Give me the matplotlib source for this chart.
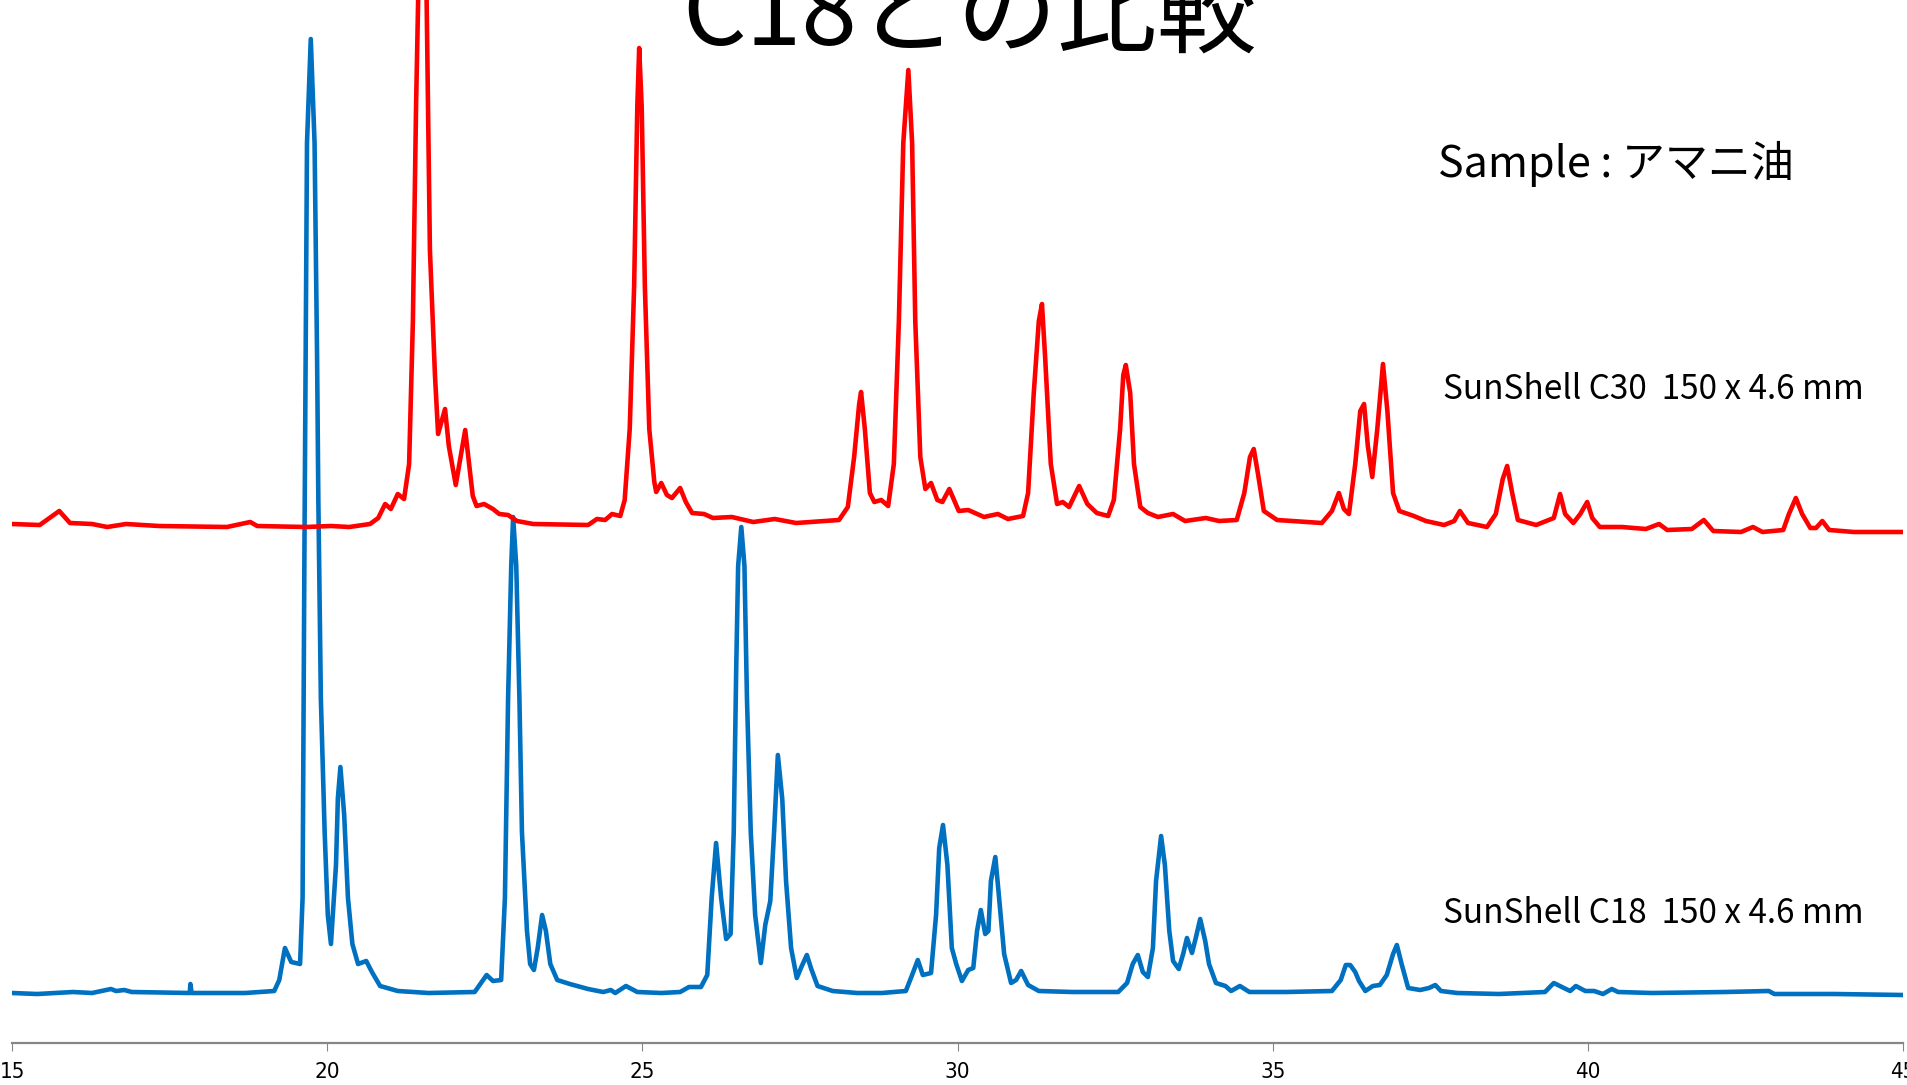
import matplotlib
matplotlib.use("Agg")
import matplotlib.pyplot as plt

plt.rcParams["font.family"] = ["Noto Sans CJK JP", "DejaVu Sans"]

# retention time [min] / detector response (arb.)
c30_time = [
    15.00, 15.44, 15.75, 15.92, 16.27, 16.51, 16.81, 17.33, 18.41, 18.78,
    18.89, 19.66, 20.06, 20.35, 20.68, 20.81, 20.92, 21.01, 21.12, 21.22,
    21.30, 21.36, 21.41, 21.44, 21.52, 21.58, 21.63, 21.71, 21.76, 21.87,
    21.93, 22.04, 22.19, 22.31, 22.37, 22.49, 22.63, 22.73, 22.87, 23.01,
    23.27, 24.14, 24.28, 24.41, 24.52, 24.65, 24.72, 24.80, 24.87, 24.92,
    24.95, 24.99, 25.04, 25.11, 25.19, 25.22, 25.30, 25.39, 25.47, 25.60,
    25.69, 25.79, 25.98, 26.12, 26.42, 26.76, 27.10, 27.44, 28.12, 28.26,
    28.36, 28.44, 28.47, 28.53, 28.61, 28.68, 28.79, 28.90, 28.99, 29.07,
    29.14, 29.22, 29.28, 29.33, 29.41, 29.49, 29.58, 29.68, 29.76, 29.87,
    30.02, 30.17, 30.42, 30.64, 30.80, 31.04, 31.12, 31.21, 31.29, 31.34,
    31.39, 31.48, 31.58, 31.67, 31.77, 31.93, 32.06, 32.21, 32.39, 32.48,
    32.58, 32.63, 32.67, 32.74, 32.80, 32.90, 33.02, 33.18, 33.42, 33.61,
    33.94, 34.15, 34.43, 34.55, 34.64, 34.70, 34.77, 34.86, 35.07, 35.31,
    35.78, 35.94, 36.05, 36.13, 36.21, 36.31, 36.39, 36.45, 36.51, 36.58,
    36.66, 36.75, 36.82, 36.91, 37.01, 37.24, 37.43, 37.72, 37.88, 37.97,
    38.10, 38.40, 38.54, 38.65, 38.72, 38.80, 38.89, 39.18, 39.46, 39.56,
    39.64, 39.77, 39.88, 39.99, 40.07, 40.19, 40.54, 40.92, 41.13, 41.26,
    41.65, 41.84, 41.99, 42.43, 42.62, 42.77, 43.10, 43.19, 43.30, 43.40,
    43.53, 43.62, 43.72, 43.83, 44.22, 45.00,
]
c30_signal = [
    519, 518, 532, 520, 519, 516, 519, 517, 516, 521,
    517, 516, 517, 516, 519, 525, 539, 534, 549, 544,
    579, 722, 936, 1032, 1300, 1032, 793, 668, 609, 634,
    597, 558, 613, 547, 537, 539, 534, 529, 528, 522,
    519, 518, 524, 523, 529, 527, 543, 614, 757, 936,
    995, 936, 757, 614, 561, 551, 560, 548, 545, 555,
    541, 530, 529, 525, 526, 521, 524, 520, 523, 536,
    586, 639, 651, 614, 550, 541, 543, 537, 579, 722,
    900, 973, 900, 722, 586, 554, 560, 543, 541, 554,
    532, 533, 526, 529, 524, 527, 550, 650, 722, 739,
    686, 579, 539, 541, 536, 557, 539, 530, 527, 543,
    614, 668, 678, 650, 579, 536, 530, 526, 529, 522,
    525, 522, 523, 550, 586, 594, 568, 532, 523, 522,
    520, 532, 550, 534, 529, 579, 632, 639, 597, 566,
    614, 679, 632, 550, 532, 527, 522, 518, 522, 532,
    520, 516, 529, 564, 577, 550, 523, 518, 525, 549,
    529, 520, 529, 541, 525, 516, 516, 514, 519, 513,
    514, 523, 512, 511, 516, 511, 513, 529, 545, 529,
    515, 515, 522, 513, 511, 511,
]

c18_time = [
    15.00, 15.40, 15.97, 16.27, 16.57, 16.65, 16.78, 16.90, 17.73, 17.82,
    17.83, 17.85, 18.70, 19.16, 19.24, 19.33, 19.43, 19.57, 19.61, 19.64,
    19.68, 19.74, 19.80, 19.84, 19.86, 19.90, 19.96, 20.01, 20.06, 20.14,
    20.17, 20.21, 20.27, 20.33, 20.40, 20.49, 20.62, 20.71, 20.84, 21.12,
    21.61, 22.34, 22.44, 22.53, 22.63, 22.76, 22.82, 22.87, 22.92, 22.95,
    23.00, 23.05, 23.09, 23.17, 23.22, 23.28, 23.34, 23.41, 23.47, 23.54,
    23.65, 23.85, 24.14, 24.38, 24.50, 24.57, 24.74, 24.92, 25.30, 25.60,
    25.74, 25.93, 26.03, 26.10, 26.17, 26.25, 26.33, 26.40, 26.45, 26.49,
    26.52, 26.57, 26.62, 26.66, 26.72, 26.79, 26.88, 26.95, 27.03, 27.09,
    27.15, 27.22, 27.28, 27.36, 27.45, 27.53, 27.61, 27.68, 27.78, 28.02,
    28.41, 28.80, 29.18, 29.28, 29.37, 29.45, 29.58, 29.66, 29.71, 29.77,
    29.84, 29.91, 29.98, 30.07, 30.17, 30.25, 30.31, 30.37, 30.44, 30.49,
    30.53, 30.60, 30.66, 30.74, 30.85, 30.93, 31.01, 31.12, 31.29, 31.82,
    32.55, 32.69, 32.78, 32.86, 32.94, 33.02, 33.10, 33.15, 33.23, 33.29,
    33.36, 33.42, 33.51, 33.58, 33.64, 33.72, 33.78, 33.85, 33.93, 33.99,
    34.10, 34.25, 34.34, 34.48, 34.63, 35.21, 35.94, 36.08, 36.16, 36.23,
    36.31, 36.37, 36.47, 36.59, 36.70, 36.81, 36.91, 36.97, 37.05, 37.15,
    37.34, 37.48, 37.58, 37.67, 37.93, 38.59, 39.32, 39.46, 39.62, 39.72,
    39.81, 39.96, 40.10, 40.24, 40.38, 40.48, 41.02, 42.18, 42.87, 42.96,
    43.92, 45.00,
]
c18_signal = [
    50, 49, 51, 50, 54, 52, 53, 51, 50, 50,
    59, 50, 50, 52, 63, 95, 81, 79, 145, 500,
    900, 1004, 900, 686, 543, 344, 211, 128, 99, 178,
    245, 276, 228, 145, 99, 79, 82, 71, 57, 52,
    50, 51, 60, 68, 62, 63, 145, 344, 477, 526,
    477, 344, 211, 112, 79, 73, 95, 128, 112, 79,
    63, 59, 54, 51, 53, 50, 57, 51, 50, 51,
    56, 56, 68, 145, 200, 145, 104, 109, 211, 377,
    477, 516, 477, 344, 211, 128, 80, 118, 142, 211,
    288, 244, 162, 95, 65, 77, 88, 74, 57, 52,
    50, 50, 52, 68, 83, 68, 70, 128, 195, 218,
    178, 95, 79, 62, 73, 75, 112, 133, 109, 112,
    162, 186, 145, 89, 60, 63, 72, 58, 52, 51,
    51, 60, 79, 88, 71, 66, 95, 162, 207, 178,
    112, 82, 74, 89, 105, 90, 105, 124, 102, 79,
    60, 57, 52, 57, 51, 51, 52, 63, 78, 78,
    71, 62, 52, 57, 58, 68, 89, 98, 78, 55,
    53, 55, 58, 52, 50, 49, 51, 60, 55, 52,
    57, 52, 52, 49, 54, 51, 50, 51, 52, 49,
    49, 48,
]

x_ticks = [15, 20, 25, 30, 35, 40, 45]

fig = plt.figure(figsize=(19.07, 10.85), dpi=100)
ax = fig.add_axes([12 / 1907, 42 / 1085, 1891 / 1907, 1043 / 1085])

ax.plot(c18_time, c18_signal, color="#0070C0", linewidth=3.3,
        solid_joinstyle="round", zorder=2)
ax.plot(c30_time, c30_signal, color="#FF0000", linewidth=3.3,
        solid_joinstyle="round", zorder=3)

ax.set_xlim(15, 45)
ax.set_ylim(0, 1043)
ax.set_xticks(x_ticks)
ax.set_xticklabels([str(t) for t in x_ticks],
                   family=["Liberation Sans Narrow", "DejaVu Sans"],
                   fontstretch="condensed")
ax.set_yticks([])
for side in ["top", "right", "left"]:
    ax.spines[side].set_visible(False)
ax.spines["bottom"].set_color("#868686")
ax.spines["bottom"].set_linewidth(1.6)
ax.tick_params(axis="x", direction="out", length=6, width=0.8,
               color="#868686", labelsize=16, pad=8, labelcolor="black")
ax.patch.set_visible(False)

fig.text(0.5086, 1 - 45 / 1085, "C18との比較", ha="center", va="baseline",
         fontsize=72, color="black")
fig.text(1438 / 1907, 1 - 177 / 1085, "Sample : アマニ油", ha="left",
         va="baseline", fontsize=31, color="black")
fig.text(1443 / 1907, 1 - 399 / 1085, "SunShell C30  150 x 4.6 mm",
         ha="left", va="baseline", fontsize=24, color="black")
fig.text(1443 / 1907, 1 - 923 / 1085, "SunShell C18  150 x 4.6 mm",
         ha="left", va="baseline", fontsize=24, color="black")

fig.savefig("out.png", dpi=100)
